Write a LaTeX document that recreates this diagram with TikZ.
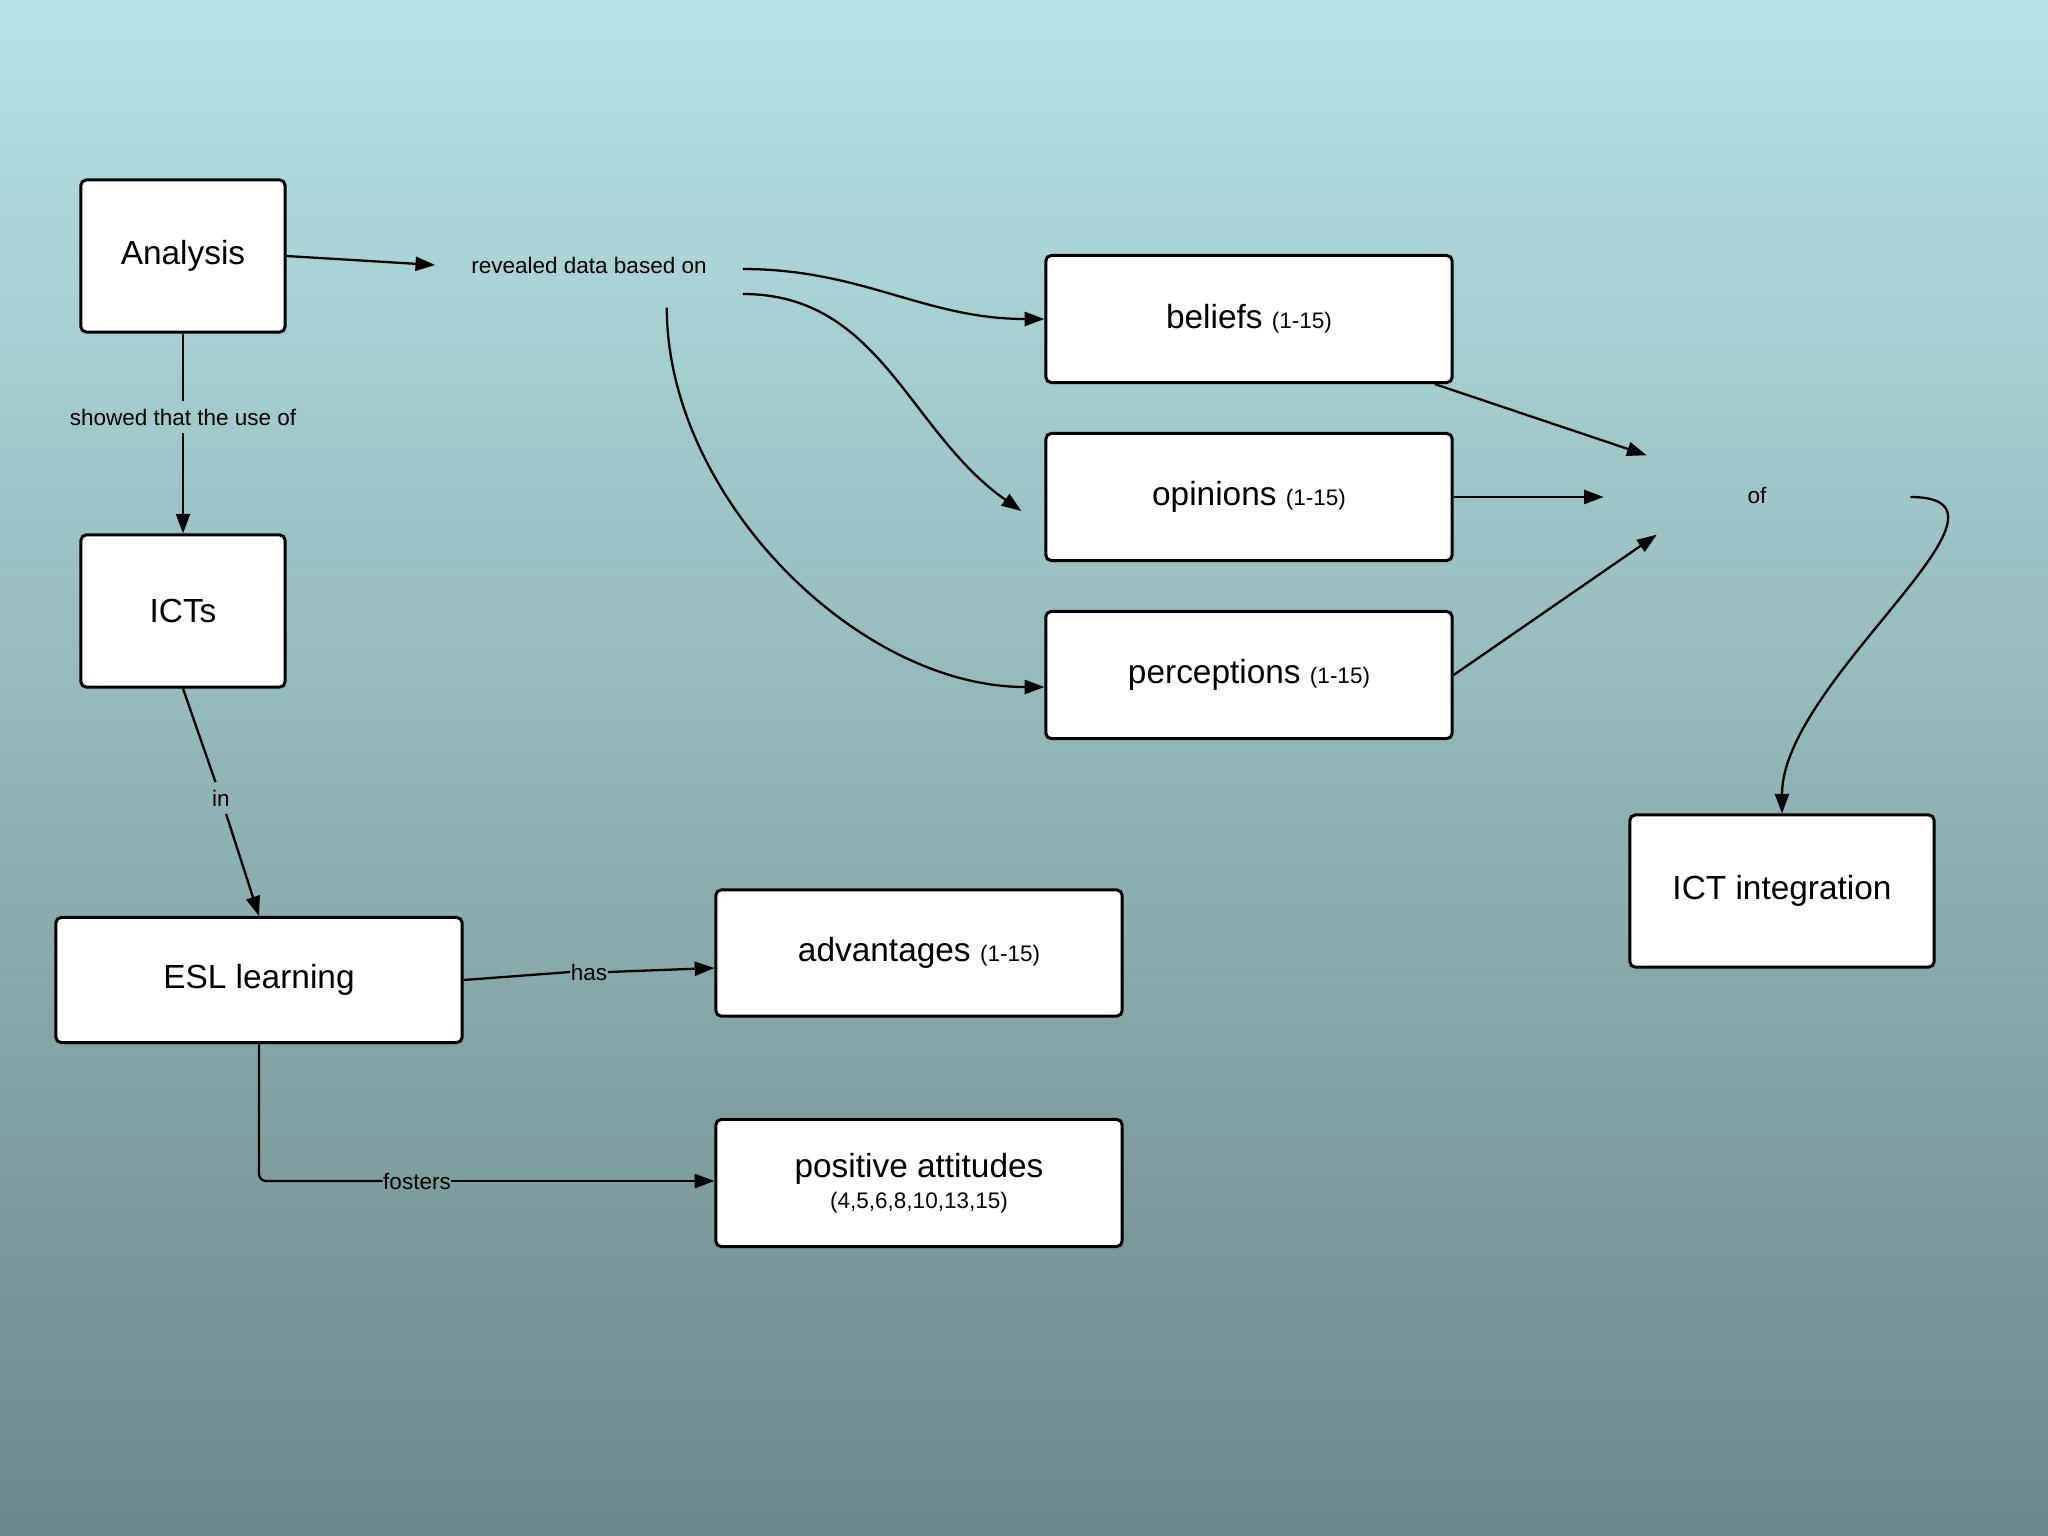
\documentclass[tikz,border=0pt]{standalone}
\usepackage{fontspec}
\setmainfont{Liberation Sans}
\usetikzlibrary{arrows.meta,calc}
\definecolor{bgtop}{RGB}{182,227,228}
\definecolor{bgbot}{RGB}{108,136,138}
\newcommand{\smtxt}{\fontsize{6.4}{7.7}\selectfont}
\newcommand{\bigtxt}{\fontsize{9.5}{11.4}\selectfont}
\begin{document}
\begin{tikzpicture}[x=0.01cm,y=0.01cm]
\tikzset{
 box/.style={draw=black, line width=0.85pt, fill=white, rounded corners=1.5pt, align=center, inner sep=0pt, font=\bigtxt},
 conn/.style={line width=0.65pt, -{Triangle[length=5.6pt,width=4pt]}},
 plain/.style={line width=0.65pt},
 lnk/.style={font=\smtxt, inner sep=1pt},
}
\shade[top color=bgtop, bottom color=bgbot] (0,0) rectangle (2048,-1536);
\useasboundingbox (0,0) rectangle (2048,-1536);

% concept boxes
\node[box, minimum width=2.04cm, minimum height=1.52cm] (ana) at (183,-256) {Analysis};
\node[box, minimum width=2.04cm, minimum height=1.52cm] (icts) at (183,-611) {ICTs};
\node[box, minimum width=4.06cm, minimum height=1.25cm] (esl) at (259,-980) {ESL learning};
\node[box, minimum width=4.06cm, minimum height=1.26cm] (adv) at (919,-953) {advantages {\smtxt (1-15)}};
\node[box, minimum width=4.06cm, minimum height=1.27cm] (pos) at (919,-1183) {positive attitudes\\[-2.5pt]{\smtxt (4,5,6,8,10,13,15)}};
\node[box, minimum width=4.06cm, minimum height=1.27cm] (bel) at (1249,-319) {beliefs {\smtxt (1-15)}};
\node[box, minimum width=4.06cm, minimum height=1.27cm] (opi) at (1249,-497) {opinions {\smtxt (1-15)}};
\node[box, minimum width=4.06cm, minimum height=1.27cm] (per) at (1249,-675) {perceptions {\smtxt (1-15)}};
\node[box, minimum width=3.04cm, minimum height=1.52cm] (ict) at (1782,-891) {ICT integration};

% linking phrases
\node[lnk, minimum width=3.06cm, minimum height=0.84cm, inner sep=0pt] (rev) at (589,-265) {revealed data based on};
\node[lnk, minimum width=3.05cm, minimum height=0.78cm, inner sep=0pt] (of) at (1757,-495) {of};
\node[lnk, inner sep=2pt] (shw) at (183,-417) {showed that the use of};
\node[lnk, inner sep=2pt] (inl) at (221,-798) {in};
\node[lnk, inner sep=0pt] (has) at (589,-972) {has};
\node[lnk, inner sep=0pt] (fos) at (417,-1181) {fosters};

% connectors
\draw[conn] (ana.east) -- (rev.west);
\draw[plain] (ana.south) -- (shw.north);
\draw[conn] (shw.south) -- (icts.north);
\draw[conn] ($(rev.east)+(0,-4)$) to[out=0,in=180] (bel.west);
\coordinate (opiend) at ($(opi.west)+(-23,-14)$);
\draw[conn] ($(rev.east)+(0,-29)$) to[out=0,in=145] (opiend);
\draw[conn] ($(rev.south east)+(-76,0)$) to[out=-90,in=180,looseness=0.9] ($(per.west)+(0,-12)$);
\draw[conn] ($(bel.south east)+(-19,0)$) -- ($(of.north west)+(43,0)$);
\draw[conn] (opi.east) -- (opi.east -| of.west);
\draw[conn] (per.east) -- ($(of.south west)+(53,0)$);
\draw[conn] ($(of.east)+(0,-2)$) to[out=0,in=90] (ict.north);
\draw[plain] (icts.south) -- (inl);
\draw[conn] (inl) -- (esl.north);
\draw[plain] (esl.east) -- (has.west);
\draw[conn] (has.east) -- ($(adv.west)+(0,-15)$);
\draw[plain, rounded corners=2pt] (esl.south) |- (fos.west);
\draw[conn] (fos.east) -- (fos.east -| pos.west);
\end{tikzpicture}
\end{document}
